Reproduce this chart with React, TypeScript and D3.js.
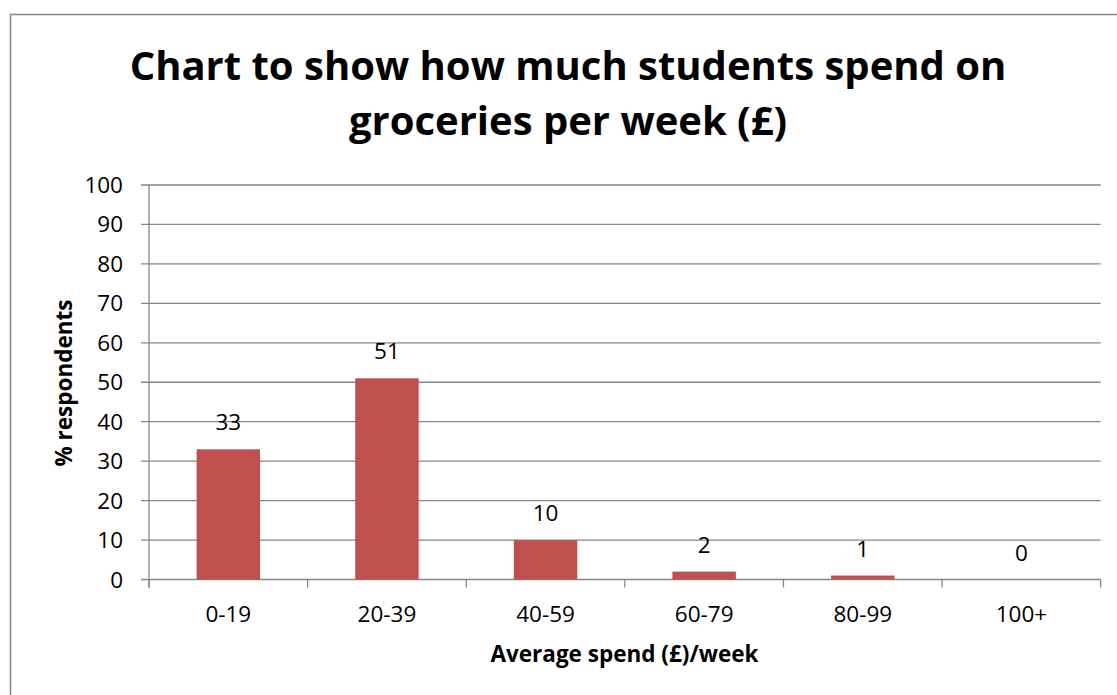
import React from "react";
import * as d3 from "d3";

const categories: string[] = ["0-19", "20-39", "40-59", "60-79", "80-99", "100+"];
const values: number[] = [33, 51, 10, 2, 1, 0];
const yTicks: number[] = [0, 10, 20, 30, 40, 50, 60, 70, 80, 90, 100];
const titleLines: string[] = ["Chart to show how much students spend on", "groceries per week (£)"];
const xTitle = "Average spend (£)/week";
const yTitle = "% respondents";

const W = 1117;
const H = 695;
const left = 149;
const right = 1100.7;
const top = 185;
const bottom = 579.5;
const FONT = "'Open Sans', sans-serif";
const GRID = "#868686";
const BAR = "#C0504D";
const TICK_SIZE = 22.5;

export default function App() {
  const x = d3.scaleBand<string>().domain(categories).range([left, right]).paddingInner(0.6).paddingOuter(0.3);
  const y = d3.scaleLinear().domain([0, 100]).range([bottom, top]);
  const step = x.step();
  const boundaries = d3.range(categories.length + 1).map((i) => left + i * step);

  return (
    <svg width={W} height={H} style={{ position: "absolute", left: 0, top: 0, background: "#fff" }} xmlns="http://www.w3.org/2000/svg">
      <rect x={10.5} y={14.5} width={1300} height={900} fill="#fff" stroke={GRID} strokeWidth={1.5} />
      {titleLines.map((t, i) => (
        <text key={t} x={568} y={80 + i * 55} textAnchor="middle" fontFamily={FONT} fontWeight={700} fontSize={40} fill="#000">
          {t}
        </text>
      ))}
      {yTicks.map((t) => (
        <g key={t}>
          <line x1={141} x2={right} y1={y(t)} y2={y(t)} stroke={GRID} strokeWidth={1.3} />
          <text x={123} y={y(t) + 8} textAnchor="end" fontFamily={FONT} fontSize={TICK_SIZE} fill="#000">
            {t}
          </text>
        </g>
      ))}
      <line x1={left} x2={left} y1={top} y2={bottom + 8} stroke={GRID} strokeWidth={1.3} />
      {boundaries.map((b, i) => (
        <line key={i} x1={b} x2={b} y1={bottom} y2={bottom + 8} stroke={GRID} strokeWidth={1.3} />
      ))}
      {categories.map((c, i) => {
        const v = values[i];
        const bx = x(c) as number;
        return (
          <g key={c}>
            {v > 0 && <rect x={bx} y={y(v)} width={x.bandwidth()} height={bottom - y(v)} fill={BAR} />}
            <text x={bx + x.bandwidth() / 2} y={y(v) - 19} textAnchor="middle" fontFamily={FONT} fontSize={TICK_SIZE} fill="#000">
              {v}
            </text>
            <text x={bx + x.bandwidth() / 2} y={622} textAnchor="middle" fontFamily={FONT} fontSize={TICK_SIZE} fill="#000">
              {c}
            </text>
          </g>
        );
      })}
      <text x={624.5} y={662} textAnchor="middle" fontFamily={FONT} fontWeight={700} fontSize={22.5} fill="#000">
        {xTitle}
      </text>
      <text transform={`translate(72,383) rotate(-90)`} textAnchor="middle" fontFamily={FONT} fontWeight={700} fontSize={22.5} fill="#000">
        {yTitle}
      </text>
    </svg>
  );
}
